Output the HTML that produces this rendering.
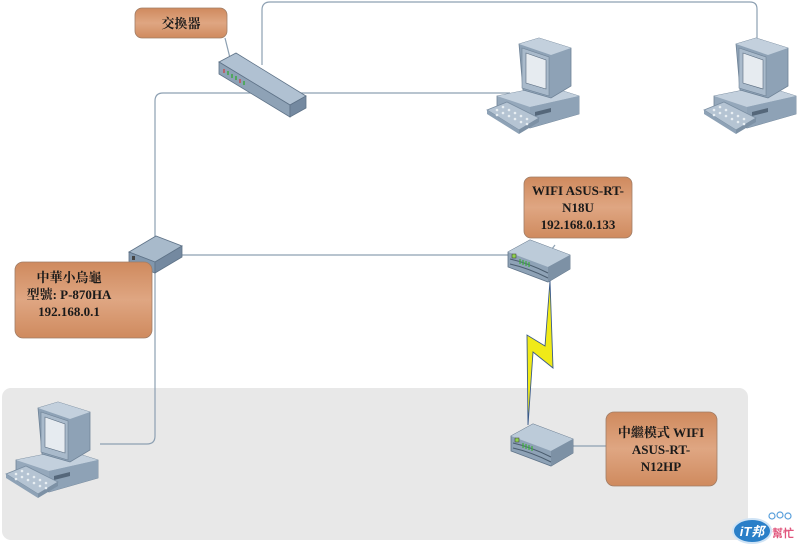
<!DOCTYPE html>
<html><head><meta charset="utf-8"><style>
html,body{margin:0;padding:0;background:#fff;}
svg{display:block}
text{font-family:"Liberation Serif","Noto Serif CJK SC","Noto Sans CJK TC",serif;font-weight:bold;fill:#1a1a1a;}
</style></head><body>
<svg width="800" height="551" viewBox="0 0 800 551" xmlns="http://www.w3.org/2000/svg">
<defs>
<linearGradient id="og" x1="0" y1="0" x2="0" y2="1">
<stop offset="0" stop-color="#cf8a5e"/><stop offset="0.5" stop-color="#dfa682"/><stop offset="1" stop-color="#cf8a5e"/>
</linearGradient>
<g id="pc">
<polygon points="12,60 62,50 94,60 94,78 45,92 12,79" fill="#95a8bb" stroke="#6f8397" stroke-width="0.8"/>
<polygon points="12,60 62,50 94,60 45,71" fill="#c3d0dd"/>
<polygon points="45,71 94,60 94,78 45,92" fill="#8ea2b6"/>
<polygon points="50,76 66,72 66,76 50,80" fill="#55677a"/>
<polygon points="34,8 54,2 86,12 86,50 66,62 38,54" fill="#8ea2b6" stroke="#6f8397" stroke-width="0.8"/>
<polygon points="34,8 54,2 86,12 66,19" fill="#c3d0dd"/>
<polygon points="37,12 64,21 64,60 37,52" fill="#a9bacb" stroke="#6f8397" stroke-width="0.6"/>
<polygon points="41,17 61,24 61,53 41,47" fill="#e6ebf0" stroke="#5b6d80" stroke-width="0.6"/>
<polygon points="2,74 22,66 54,82 34,94" fill="#b5c4d3" stroke="#7a8ea2" stroke-width="0.8"/>
<polygon points="2,74 34,94 34,98 2,78" fill="#8ea2b6"/>
<polygon points="34,94 54,82 54,86 34,98" fill="#7d91a5"/>
<g fill="#e8eef3"><circle cx="12" cy="74" r="1.3"/><circle cx="18" cy="71" r="1.3"/><circle cx="18" cy="77" r="1.3"/><circle cx="24" cy="74" r="1.3"/><circle cx="24" cy="80" r="1.3"/><circle cx="30" cy="77" r="1.3"/><circle cx="30" cy="83" r="1.3"/><circle cx="36" cy="80" r="1.3"/><circle cx="36" cy="86" r="1.3"/><circle cx="42" cy="83" r="1.3"/><circle cx="12" cy="79" r="1.3"/><circle cx="42" cy="88" r="1.3"/></g>
</g>
<g id="rt">
<polygon points="0,15 22,3 62,18 62,32 40,45 0,30" fill="#8ea2b6" stroke="#5f7388" stroke-width="0.8"/>
<polygon points="0,15 22,3 62,18 40,30" fill="#bccbd9"/>
<polygon points="40,30 62,18 62,32 40,45" fill="#7d91a5"/>
<path d="M2,22 q18,4 38,14 M2,27 q18,4 38,14" stroke="#4a5c6e" fill="none" stroke-width="1"/>
<rect x="4" y="17" width="4" height="4" fill="#8fd14f" stroke="#333" stroke-width="0.5"/>
<path d="M12,22 v5 M15,23 v5 M18,24 v5 M21,25 v5" stroke="#3fae3f" stroke-width="1.2"/>
</g>
</defs>
<rect x="0" y="0" width="800" height="551" fill="#fff"/>
<rect x="2" y="388" width="746" height="152" rx="9" fill="#e8e8e8"/>
<g fill="none" stroke="#8da0b2" stroke-width="1.2">
<path d="M262,65 V10 q0,-8 8,-8 H750 q7,0 7,7 V38"/>
<path d="M510,93 H163 q-8,0 -8,8 V436 q0,8 -8,8 H100"/>
<path d="M182,255 H512"/>
<path d="M573,446 H606"/>
<path d="M225,38 L230,58"/>
<path d="M100,282 L135,262"/>
<path d="M555,245 L545,258"/>
</g>
<polygon points="219,62 236,53 306,96 290,105" fill="#b0c1d2" stroke="#5f7388" stroke-width="0.8"/>
<polygon points="219,62 290,105 290,117 219,74" fill="#8ea2b6" stroke="#5f7388" stroke-width="0.8"/>
<polygon points="290,105 306,96 306,108 290,117" fill="#7489a0" stroke="#5f7388" stroke-width="0.8"/>
<g stroke-width="1.3"><path d="M224,69 v4" stroke="#c44"/><path d="M228,71 v4" stroke="#3a3"/><path d="M232,74 v4" stroke="#3a3"/><path d="M236,76 v4" stroke="#3a3"/><path d="M240,79 v4" stroke="#c44"/><path d="M244,81 v4" stroke="#3a3"/></g>
<!-- modem -->
<polygon points="129,252 156,236 182,246 155,262" fill="#a8bacb" stroke="#5f7388" stroke-width="0.8"/>
<polygon points="129,252 155,262 155,273 129,263" fill="#8197ad" stroke="#5f7388" stroke-width="0.8"/>
<polygon points="155,262 182,246 182,257 155,273" fill="#7489a0" stroke="#5f7388" stroke-width="0.8"/>
<rect x="132" y="256" width="3" height="4" fill="#444"/>
<circle cx="145" cy="264" r="1" fill="#c33"/><circle cx="149" cy="266" r="1" fill="#3a3"/>
<use href="#rt" x="508" y="237"/>
<use href="#rt" x="511" y="421"/>
<polygon points="550,281 553,368 533,352 528,425 527,335 545,346" fill="#f0ea18" stroke="#3a5a8a" stroke-width="0.9"/>
<use href="#pc" x="485" y="36"/>
<use href="#pc" x="702" y="36"/>
<use href="#pc" x="4" y="400"/>
<rect x="135" y="8" width="92" height="30" rx="7" fill="url(#og)" stroke="#a07d66" stroke-width="0.8"/>
<text x="181" y="28" font-size="13" text-anchor="middle">交換器</text>
<rect x="524" y="177" width="108" height="61" rx="7" fill="url(#og)" stroke="#a07d66" stroke-width="0.8"/>
<text x="578" y="195" font-size="13" text-anchor="middle">WIFI ASUS-RT-</text>
<text x="578" y="212" font-size="13" text-anchor="middle">N18U</text>
<text x="578" y="229" font-size="13" text-anchor="middle">192.168.0.133</text>
<rect x="15" y="262" width="137" height="76" rx="8" fill="url(#og)" stroke="#a07d66" stroke-width="0.8"/>
<text x="69" y="282" font-size="13" text-anchor="middle">中華小烏龜</text>
<text x="69" y="299" font-size="13" text-anchor="middle">型號: P-870HA</text>
<text x="69" y="316" font-size="13" text-anchor="middle">192.168.0.1</text>
<rect x="606" y="412" width="111" height="74" rx="8" fill="url(#og)" stroke="#a07d66" stroke-width="0.8"/>
<text x="661" y="437" font-size="13" text-anchor="middle">中繼模式 WIFI</text>
<text x="661" y="454" font-size="13" text-anchor="middle">ASUS-RT-</text>
<text x="661" y="471" font-size="13" text-anchor="middle">N12HP</text>
<ellipse cx="752" cy="531" rx="19" ry="12" fill="#2a7fc8" stroke="#cfe3f5" stroke-width="2"/>
<text x="752" y="536" font-size="13" text-anchor="middle" style="fill:#fff;font-family:'Liberation Sans','Noto Sans CJK TC',sans-serif;font-style:italic">iT邦</text>
<text x="783" y="537" font-size="11" text-anchor="middle" style="fill:#e0557c;font-family:'Noto Sans CJK TC',sans-serif">幫忙</text>
<g fill="none" stroke="#5aa0dc" stroke-width="1.2"><circle cx="772" cy="516" r="3"/><circle cx="780" cy="515" r="3"/><circle cx="788" cy="516" r="3"/></g>
</svg>
</body></html>
